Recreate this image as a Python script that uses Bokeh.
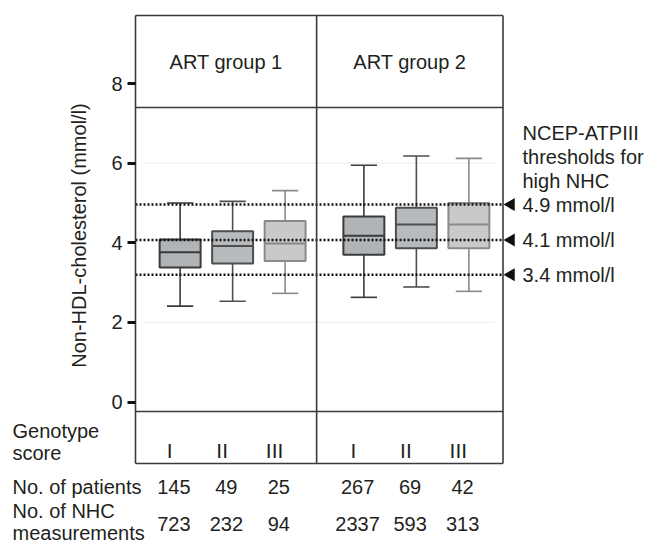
import math
from bokeh.plotting import figure
from bokeh.models import Range1d, FixedTicker
from bokeh.embed import file_html
from bokeh.resources import INLINE
from bokeh.core.properties import value

# ---------------- data ----------------
groups = ["ART group 1", "ART group 2"]
genotypes = ["I", "II", "III"]
whisker_low = [2.41, 2.53, 2.73, 2.63, 2.89, 2.78]
q1 = [3.38, 3.48, 3.54, 3.70, 3.86, 3.86]
median = [3.76, 3.92, 3.98, 4.18, 4.46, 4.46]
q3 = [4.08, 4.29, 4.55, 4.66, 4.88, 5.00]
whisker_high = [5.00, 5.04, 5.31, 5.95, 6.18, 6.12]
patients = [145, 49, 25, 267, 69, 42]
measurements = [723, 232, 94, 2337, 593, 313]
threshold_levels = [4.96, 4.07, 3.20]
threshold_labels = ["4.9 mmol/l", "4.1 mmol/l", "3.4 mmol/l"]
threshold_title = ["NCEP-ATPIII", "thresholds for", "high NHC"]
y_ticks = [0, 2, 4, 6, 8]
grid_values = [2, 6]
y_label = "Non-HDL-cholesterol (mmol/l)"
row_labels = ["Genotype", "score", "No. of patients", "No. of NHC", "measurements"]

# ---------------- layout ----------------
W, H = 646, 546
PX_X = 52.5       # px per x unit
PX_Y = 39.8       # px per y unit
LEFT_PX = 135     # pixel of x=0
Y0 = 401.5        # pixel of y=0

def ypx(py):
    return (Y0 - py) / PX_Y

def xpx(px):
    return (px - LEFT_PX) / PX_X

FONT = "Liberation Sans"
TXT = "#231f20"

p = figure(width=W, height=H, output_backend="svg", toolbar_location=None,
           x_range=Range1d(xpx(0), xpx(W)), y_range=Range1d(ypx(H), ypx(0)),
           x_axis_location=None, min_border_left=0, min_border_right=0,
           min_border_top=0, min_border_bottom=0)
p.outline_line_color = None
p.grid.visible = False
p.background_fill_color = "white"

ax = p.yaxis[0]
ax.fixed_location = 0
ax.ticker = FixedTicker(ticks=y_ticks)
ax.axis_line_color = None
ax.major_tick_in = 0
ax.major_tick_out = 8
ax.major_tick_line_width = 3
ax.major_tick_line_color = "#111111"
ax.minor_tick_line_color = None
ax.major_label_text_font = FONT
ax.major_label_text_font_size = "20px"
ax.major_label_text_color = TXT
ax.major_label_standoff = 5

# panel geometry
panel_edges = [0.0, 3.45, 7.0]
top_y = ypx(15)
header_y = ypx(107)
plot_bottom_y = ypx(411)
geno_bottom_y = ypx(463)

offsets = [0.0, 3.5]
pos = [offsets[g] + 0.85 + i for g in range(len(groups)) for i in range(len(genotypes))]
fills = ["#b1b4b7", "#b8bbbe", "#c9c9c9"] * 2
lines = ["#3a3a3a", "#4e4e4e", "#8a8a8a"] * 2
bw = 0.78
cw = 0.25

# faint grid
p.segment(x0=[0.15] * len(grid_values), x1=[6.85] * len(grid_values),
          y0=grid_values, y1=grid_values, line_color="#ececec", line_width=1)

# whiskers
p.segment(x0=pos, x1=pos, y0=q3, y1=whisker_high, line_color=lines, line_width=1.6)
p.segment(x0=pos, x1=pos, y0=q1, y1=whisker_low, line_color=lines, line_width=1.6)
p.segment(x0=[x - cw for x in pos], x1=[x + cw for x in pos], y0=whisker_high, y1=whisker_high,
          line_color=lines, line_width=1.6)
p.segment(x0=[x - cw for x in pos], x1=[x + cw for x in pos], y0=whisker_low, y1=whisker_low,
          line_color=lines, line_width=1.6)
# boxes
p.vbar(x=pos, width=bw, bottom=q1, top=q3, fill_color=fills, line_color=lines, line_width=2)
p.segment(x0=[x - bw / 2 for x in pos], x1=[x + bw / 2 for x in pos], y0=median, y1=median,
          line_color=lines, line_width=2)

# threshold dotted lines
n = len(threshold_levels)
p.segment(x0=[0.0] * n, x1=[panel_edges[-1]] * n, y0=threshold_levels, y1=threshold_levels,
          line_color="#111111", line_width=2.5, line_dash="2 2")

# frame lines
fl = "#3a3a3a"
hy = [top_y, header_y, plot_bottom_y, geno_bottom_y]
p.segment(x0=[0.0] * 4, x1=[panel_edges[-1]] * 4, y0=hy, y1=hy, line_color=fl, line_width=1.6)
p.segment(x0=panel_edges, x1=panel_edges, y0=[geno_bottom_y] * 3, y1=[top_y] * 3,
          line_color=fl, line_width=1.6)

def txt(x, y, text, size="20px", align="center", angle=0.0):
    p.text(x=x, y=y, text=text, angle=angle, text_font=value(FONT), text_font_size=size,
           text_color=TXT, text_align=align, text_baseline="middle")

# header texts
centers = [(panel_edges[i] + panel_edges[i + 1]) / 2 for i in range(2)]
txt(centers, [ypx(61)] * 2, groups)

# genotype numerals and counts
txt([x - 0.2 for x in pos], [ypx(450)] * 6, genotypes * 2, size="21px")
txt([x - 0.12 for x in pos], [ypx(486)] * 6, [str(v) for v in patients])
txt([x - 0.12 for x in pos], [ypx(523)] * 6, [str(v) for v in measurements])

# threshold arrows and labels
p.scatter(x=[xpx(510.5)] * n, y=threshold_levels, marker="triangle", size=13,
          angle=math.pi / 2, fill_color="#111111", line_color=None)
txt([xpx(522)] * n, threshold_levels, threshold_labels, align="left")
txt([xpx(522)] * 3, [ypx(132), ypx(156), ypx(180)], threshold_title, align="left")

# left-side labels
txt([xpx(78)], [ypx(235)], [y_label], angle=math.pi / 2)
txt([xpx(12)] * 5, [ypx(430), ypx(452), ypx(486), ypx(510), ypx(532)], row_labels, align="left")

open("out.html", "w").write(file_html(p, INLINE))
